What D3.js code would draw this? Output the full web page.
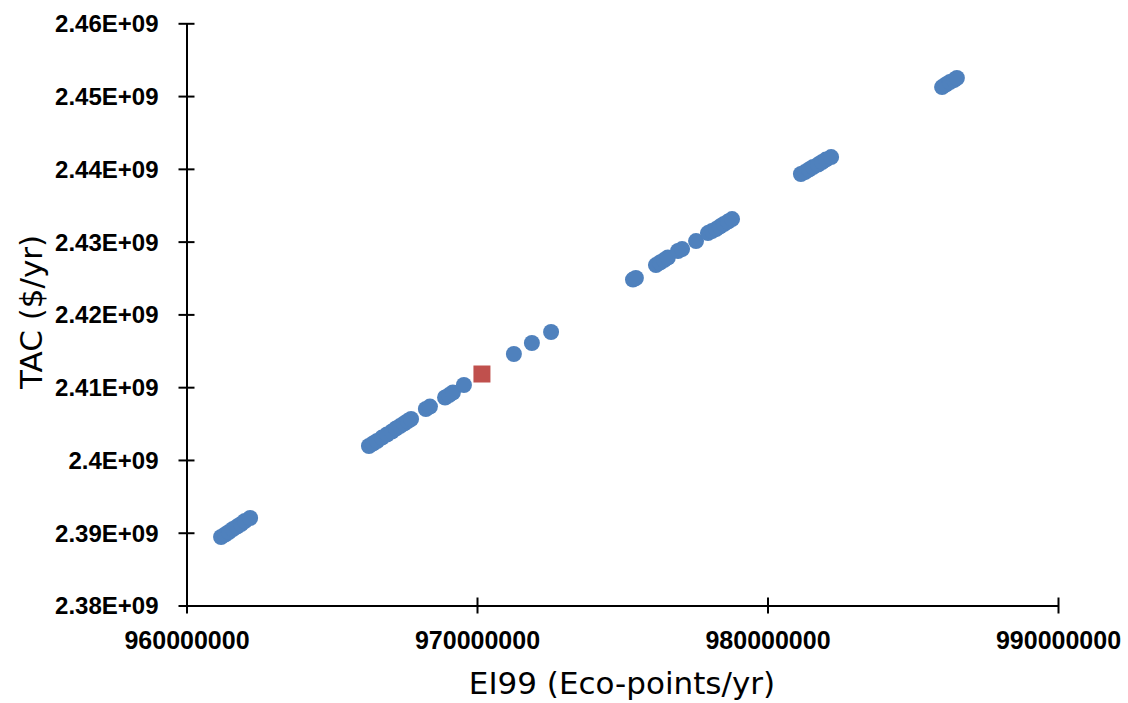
<!DOCTYPE html>
<html>
<head>
<meta charset="utf-8">
<script src="https://cdn.jsdelivr.net/npm/d3@7"></script>
<style>
  html, body { margin: 0; padding: 0; background: #fff; }
  svg { display: block; }
</style>
</head>
<body>
<svg id="chart" width="1128" height="703"></svg>
<script>
// Pareto solutions: EI99 (Eco-points/yr) vs total annual cost ($/yr)
const paretoEI99 = [
  961.19e6, 961.33e6, 961.46e6, 961.60e6, 961.74e6, 961.88e6, 962.01e6, 962.19e6,
  966.28e6, 966.42e6, 966.56e6, 966.73e6, 966.90e6, 967.07e6, 967.21e6, 967.35e6, 967.49e6, 967.62e6, 967.73e6,
  968.24e6, 968.38e6,
  968.90e6, 969.04e6, 969.17e6,
  969.55e6,
  971.27e6, 971.89e6, 972.55e6,
  975.37e6, 975.47e6,
  976.16e6, 976.30e6, 976.44e6, 976.57e6,
  976.92e6, 977.06e6,
  977.54e6,
  977.95e6, 978.09e6, 978.23e6, 978.36e6, 978.50e6, 978.64e6, 978.78e6,
  981.15e6, 981.29e6, 981.43e6, 981.57e6, 981.74e6, 981.88e6, 982.01e6, 982.19e6,
  986.01e6, 986.14e6, 986.28e6, 986.42e6, 986.52e6
];
const paretoTAC = [
  2.38941e9, 2.38976e9, 2.39010e9, 2.39051e9, 2.39085e9, 2.39120e9, 2.39161e9, 2.39202e9,
  2.40192e9, 2.40226e9, 2.40260e9, 2.40308e9, 2.40350e9, 2.40391e9, 2.40432e9, 2.40466e9, 2.40501e9, 2.40535e9, 2.40563e9,
  2.40700e9, 2.40734e9,
  2.40858e9, 2.40892e9, 2.40927e9,
  2.41030e9,
  2.41456e9, 2.41607e9, 2.41758e9,
  2.42479e9, 2.42500e9,
  2.42678e9, 2.42713e9, 2.42747e9, 2.42782e9,
  2.42871e9, 2.42898e9,
  2.43008e9,
  2.43118e9, 2.43146e9, 2.43173e9, 2.43207e9, 2.43242e9, 2.43276e9, 2.43310e9,
  2.43929e9, 2.43956e9, 2.43991e9, 2.44025e9, 2.44059e9, 2.44094e9, 2.44128e9, 2.44162e9,
  2.45124e9, 2.45159e9, 2.45193e9, 2.45220e9, 2.45248e9
];
// Highlighted solution
const selectedEI99 = [970.17e6];
const selectedTAC = [2.41181e9];

const xTicks = [960000000, 970000000, 980000000, 990000000];
const yTicks = [2.38e9, 2.39e9, 2.40e9, 2.41e9, 2.42e9, 2.43e9, 2.44e9, 2.45e9, 2.46e9];
const yTickLabels = ["2.38E+09", "2.39E+09", "2.4E+09", "2.41E+09", "2.42E+09", "2.43E+09", "2.44E+09", "2.45E+09", "2.46E+09"];

const svg = d3.select("#chart");
const plotLeft = 186.5, plotRight = 1058, plotTop = 23.3, plotBottom = 605.5;

const x = d3.scaleLinear().domain([960e6, 990e6]).range([plotLeft, plotRight]);
const y = d3.scaleLinear().domain([2.38e9, 2.46e9]).range([plotBottom, plotTop]);

const tickFont = "'Liberation Sans', Arial, sans-serif";
const titleFont = "'DejaVu Sans', 'Noto Sans', sans-serif";

// Axes (ticks cross the axis line)
const xAxis = svg.append("g").attr("transform", `translate(0,${plotBottom})`)
  .call(d3.axisBottom(x).tickValues(xTicks).tickSize(8).tickSizeOuter(0).tickFormat(d3.format("d")));
xAxis.selectAll(".tick line").attr("y1", -8).attr("y2", 8);
xAxis.selectAll(".tick text").attr("dy", 0).attr("y", 43);

const yAxis = svg.append("g").attr("transform", `translate(${plotLeft},0)`)
  .call(d3.axisLeft(y).tickValues(yTicks).tickSize(8).tickSizeOuter(0)
    .tickFormat((d, i) => yTickLabels[i]));
yAxis.selectAll(".tick line").attr("x1", -8).attr("x2", 8);
yAxis.selectAll(".tick text").attr("x", -28).attr("dy", "0.35em");

svg.selectAll(".domain").attr("stroke", "#000").attr("stroke-width", 2);
svg.selectAll(".tick line").attr("stroke", "#000").attr("stroke-width", 2);
svg.selectAll(".tick text")
  .attr("font-family", tickFont).attr("font-weight", "bold")
  .attr("font-size", 24).attr("fill", "#000");
xAxis.selectAll(".tick text").attr("font-size", 25);

// Pareto points
svg.append("g").selectAll("circle")
  .data(paretoEI99.map((v, i) => [v, paretoTAC[i]]))
  .join("circle")
  .attr("cx", d => x(d[0]))
  .attr("cy", d => y(d[1]))
  .attr("r", 8)
  .attr("fill", "#4F81BD");

// Selected point
const sq = 17;
svg.append("g").selectAll("rect")
  .data(selectedEI99.map((v, i) => [v, selectedTAC[i]]))
  .join("rect")
  .attr("x", d => x(d[0]) - sq / 2)
  .attr("y", d => y(d[1]) - sq / 2)
  .attr("width", sq).attr("height", sq)
  .attr("fill", "#C0504D");

// Axis titles
svg.append("text")
  .attr("x", 622).attr("y", 694)
  .attr("text-anchor", "middle")
  .attr("font-family", titleFont).attr("font-size", 31).attr("fill", "#000")
  .text("EI99 (Eco-points/yr)");

svg.append("text")
  .attr("transform", "translate(42,312) rotate(-90)")
  .attr("text-anchor", "middle")
  .attr("font-family", titleFont).attr("font-size", 31).attr("fill", "#000")
  .text("TAC ($/yr)");
</script>
</body>
</html>
